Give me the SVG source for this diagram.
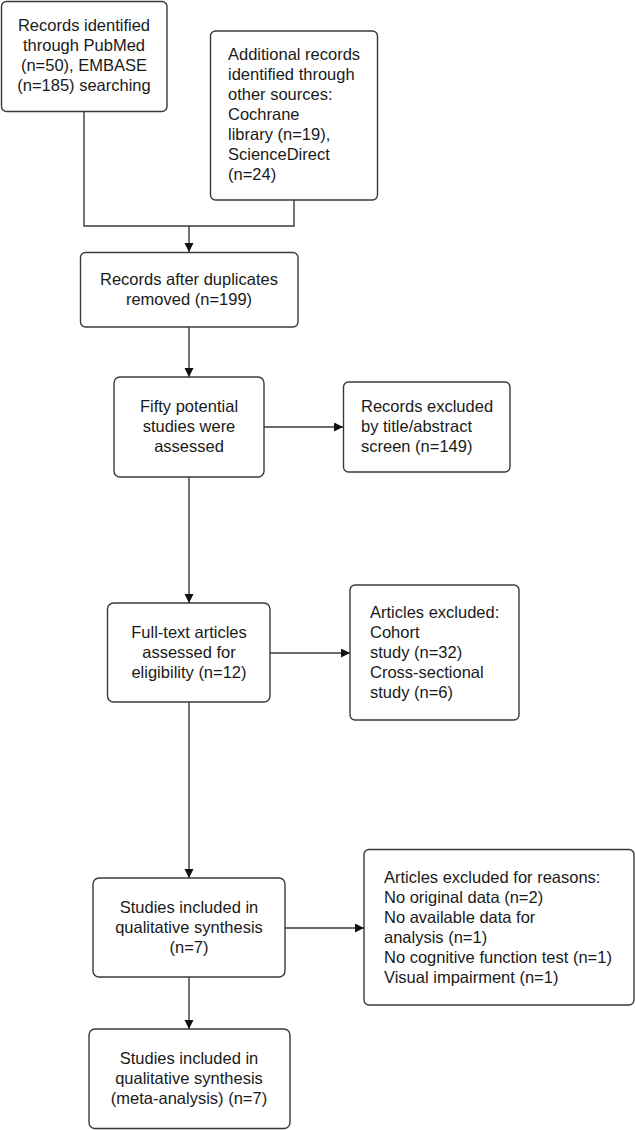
<svg xmlns="http://www.w3.org/2000/svg" width="635" height="1130" viewBox="0 0 635 1130">
<style>
.box{fill:#fff;stroke:#3a3a3a;stroke-width:1.4}
.t{font-family:"Liberation Sans",Arial,sans-serif;font-size:16.5px;fill:#1a1a1a}
.c{text-anchor:middle}
.ln{fill:none;stroke:#3a3a3a;stroke-width:1.4}
</style>
<defs>
<marker id="ah" markerUnits="userSpaceOnUse" markerWidth="10" markerHeight="10" refX="9" refY="4.5" orient="auto">
<path d="M0,0 L9,4.5 L0,9 z" fill="#111"/>
</marker>
</defs>
<rect width="635" height="1130" fill="#fff"/>
<g id="connectors">
<path class="ln" d="M84,112 V226 H294 V200"/>
<path class="ln" d="M189,226 V252" marker-end="url(#ah)"/>
<path class="ln" d="M189,327 V377" marker-end="url(#ah)"/>
<path class="ln" d="M264,427 H343" marker-end="url(#ah)"/>
<path class="ln" d="M189,477 V603" marker-end="url(#ah)"/>
<path class="ln" d="M270,653 H350" marker-end="url(#ah)"/>
<path class="ln" d="M189,702 V878" marker-end="url(#ah)"/>
<path class="ln" d="M285,928 H364" marker-end="url(#ah)"/>
<path class="ln" d="M189,977 V1029" marker-end="url(#ah)"/>
</g>
<g id="n1">
<rect class="box" x="1.5" y="1.5" width="165.5" height="110" rx="5"/>
<text class="t c" x="84"><tspan x="84" y="31">Records identified</tspan><tspan x="84" y="51">through PubMed</tspan><tspan x="84" y="71">(n=50), EMBASE</tspan><tspan x="84" y="91">(n=185) searching</tspan></text>
</g>
<g id="n2">
<rect class="box" x="210.5" y="31" width="167" height="169" rx="5"/>
<text class="t"><tspan x="228" y="60">Additional records</tspan><tspan x="228" y="80">identified through</tspan><tspan x="228" y="100">other sources:</tspan><tspan x="228" y="120">Cochrane</tspan><tspan x="228" y="140">library (n=19),</tspan><tspan x="228" y="160">ScienceDirect</tspan><tspan x="228" y="180">(n=24)</tspan></text>
</g>
<g id="n3">
<rect class="box" x="80.5" y="252.5" width="217.5" height="74.5" rx="5"/>
<text class="t c"><tspan x="189" y="285">Records after duplicates</tspan><tspan x="189" y="305">removed (n=199)</tspan></text>
</g>
<g id="n4">
<rect class="box" x="114" y="377" width="150" height="100" rx="6"/>
<text class="t c"><tspan x="189" y="412">Fifty potential</tspan><tspan x="189" y="432">studies were</tspan><tspan x="189" y="452">assessed</tspan></text>
</g>
<g id="n5">
<rect class="box" x="343.5" y="382" width="166.5" height="90" rx="5"/>
<text class="t"><tspan x="361" y="412">Records excluded</tspan><tspan x="361" y="432">by title/abstract</tspan><tspan x="361" y="452">screen (n=149)</tspan></text>
</g>
<g id="n6">
<rect class="box" x="107.5" y="603" width="162.5" height="99" rx="6"/>
<text class="t c"><tspan x="189" y="638">Full-text articles</tspan><tspan x="189" y="658">assessed for</tspan><tspan x="189" y="678">eligibility (n=12)</tspan></text>
</g>
<g id="n7">
<rect class="box" x="350" y="585" width="169" height="135" rx="5"/>
<text class="t"><tspan x="370" y="618">Articles excluded:</tspan><tspan x="370" y="638">Cohort</tspan><tspan x="370" y="658">study (n=32)</tspan><tspan x="370" y="678">Cross-sectional</tspan><tspan x="370" y="698">study (n=6)</tspan></text>
</g>
<g id="n8">
<rect class="box" x="93" y="878" width="192" height="99" rx="6"/>
<text class="t c"><tspan x="189" y="913">Studies included in</tspan><tspan x="189" y="933">qualitative synthesis</tspan><tspan x="189" y="953">(n=7)</tspan></text>
</g>
<g id="n9">
<rect class="box" x="364" y="849.5" width="270" height="155.5" rx="5"/>
<text class="t"><tspan x="384" y="883">Articles excluded for reasons:</tspan><tspan x="384" y="903">No original data (n=2)</tspan><tspan x="384" y="923">No available data for</tspan><tspan x="384" y="943">analysis (n=1)</tspan><tspan x="384" y="963">No cognitive function test (n=1)</tspan><tspan x="384" y="983">Visual impairment (n=1)</tspan></text>
</g>
<g id="n10">
<rect class="box" x="89" y="1029" width="201" height="99.5" rx="6"/>
<text class="t c"><tspan x="189" y="1064">Studies included in</tspan><tspan x="189" y="1084">qualitative synthesis</tspan><tspan x="189" y="1104">(meta-analysis) (n=7)</tspan></text>
</g>
</svg>
